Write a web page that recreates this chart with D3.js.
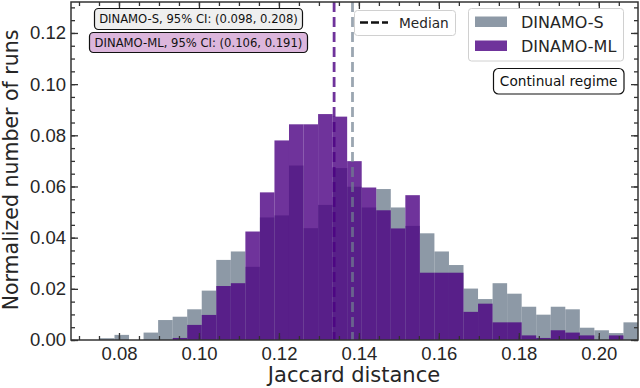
<!DOCTYPE html>
<html>
<head>
<meta charset="utf-8">
<script src="https://cdn.jsdelivr.net/npm/d3@7"></script>
<style>
  body { margin: 0; background: #fff; }
  svg { display: block; font-family: "DejaVu Sans", sans-serif; }
</style>
</head>
<body>
<svg id="chart" width="640" height="388"></svg>
<script>
// histogram bins (same edges for both runs)
const binLo = 0.07524, binHi = 0.2098, binCount = 37;
const seriesNames = ['DINAMO-S', 'DINAMO-ML'];
const dinamoS = [0.0007, 0.0020, 0, 0.0029, 0.0078, 0.0091, 0.0120, 0.0193, 0.0313, 0.0346,
  0.0286, 0.0479, 0.0487, 0.0682, 0.0437, 0.0528, 0.0672, 0.0599, 0.0518, 0.0590,
  0.0518, 0.0446, 0.0417, 0.0346, 0.0293, 0.0201, 0.0160, 0.0222, 0.0181, 0.0130,
  0.0099, 0.0130, 0.0120, 0.0048, 0.0038, 0.0027, 0.0069];
const dinamoML = [0, 0, 0, 0, 0, 0.0008, 0.0059, 0.0098, 0.0211, 0.0222,
  0.0424, 0.0577, 0.0780, 0.0843, 0.0843, 0.0883, 0.0873, 0.0699, 0.0596, 0.0507,
  0.0436, 0.0566, 0.0263, 0.0263, 0.0263, 0.0110, 0.0142, 0.0069, 0.0069, 0.0018,
  0.0008, 0.0038, 0.0029, 0.0018, 0, 0.0018, 0];
const medians = [0.1384, 0.1338];
const ciLabels = ['DINAMO-S, 95% CI: (0.098, 0.208)', 'DINAMO-ML, 95% CI: (0.106, 0.191)'];
const xTicks = [0.08, 0.10, 0.12, 0.14, 0.16, 0.18, 0.20];
const yTicks = [0.00, 0.02, 0.04, 0.06, 0.08, 0.10, 0.12];

const colors = {
   s: 'slategray',
   ml: 'indigo',
   text: '#262626',
   spine: '#333'
};

const svg = d3.select('#chart');
const plot = {left: 71, right: 638, top: 2, bottom: 340};

const x = d3.scaleLinear().domain([0.068, 0.2098]).range([plot.left, plot.right]);
const y = d3.scaleLinear().domain([0, 0.1321]).range([plot.bottom, plot.top]);

const step = (binHi - binLo) / binCount;
const edges = d3.range(binCount + 1).map(i => binLo + i * step);

function drawHist(values, color) {
   svg.append('g')
      .selectAll('rect')
      .data(values)
      .join('rect')
      .attr('x', (d, i) => x(edges[i]))
      .attr('width', (d, i) => x(edges[i + 1]) - x(edges[i]))
      .attr('y', d => y(d))
      .attr('height', d => y(0) - y(d))
      .attr('fill', color)
      .attr('fill-opacity', 0.8);
}
drawHist(dinamoS, colors.s);
drawHist(dinamoML, colors.ml);

// median lines
const medianColors = [colors.s, colors.ml];
medians.forEach((m, i) => {
   svg.append('line')
      .attr('x1', x(m)).attr('x2', x(m))
      .attr('y1', plot.top).attr('y2', plot.bottom)
      .attr('stroke', medianColors[i])
      .attr('stroke-opacity', i == 0 ? 0.7 : 0.8)
      .attr('stroke-width', 2.8)
      .attr('stroke-dasharray', '10,5');
});

// axes, ticks inward on all sides
const xMinor = d3.range(0.07, 0.2098, 0.005);
const yMinor = d3.range(0, 0.1321, 0.005);
function tickAxis(axisFn, scale, ticks, size, transform, labels) {
   const g = svg.append('g')
      .attr('transform', transform)
      .call(axisFn(scale).tickValues(ticks).tickSize(size).tickSizeOuter(0)
         .tickFormat(labels ? d3.format('.2f') : ''));
   g.select('.domain').remove();
   g.selectAll('.tick line').attr('stroke', colors.spine).attr('stroke-width', 1.3);
   return g;
}
const xb = tickAxis(d3.axisTop, x, xTicks, 7, `translate(0,${plot.bottom})`, true);
xb.selectAll('text').attr('y', 19.5).attr('dy', null)
   .attr('font-size', 18.5).attr('fill', colors.text);
tickAxis(d3.axisTop, x, xMinor, 4, `translate(0,${plot.bottom})`, false);
tickAxis(d3.axisBottom, x, xTicks, 7, `translate(0,${plot.top})`, false);
tickAxis(d3.axisBottom, x, xMinor, 4, `translate(0,${plot.top})`, false);

const yl = tickAxis(d3.axisRight, y, yTicks, 7, `translate(${plot.left},0)`, true);
yl.selectAll('text').attr('x', -5).attr('text-anchor', 'end')
   .attr('font-size', 18.5).attr('fill', colors.text);
tickAxis(d3.axisRight, y, yMinor, 4, `translate(${plot.left},0)`, false);
tickAxis(d3.axisLeft, y, yTicks, 7, `translate(${plot.right},0)`, false);
tickAxis(d3.axisLeft, y, yMinor, 4, `translate(${plot.right},0)`, false);

svg.append('rect')
   .attr('x', plot.left).attr('y', plot.top)
   .attr('width', plot.right - plot.left).attr('height', plot.bottom - plot.top)
   .attr('fill', 'none').attr('stroke', colors.spine).attr('stroke-width', 1.5);

// axis labels
svg.append('text')
   .attr('x', 354).attr('y', 382)
   .attr('text-anchor', 'middle').attr('font-size', 21).attr('fill', colors.text)
   .text('Jaccard distance');
svg.append('text')
   .attr('transform', 'translate(18,170) rotate(-90)')
   .attr('text-anchor', 'middle').attr('font-size', 20.5).attr('fill', colors.text)
   .text('Normalized number of runs');

// CI annotations
const ciFills = ['#efefef', '#dcb6dc'];
const ciBoxes = [{x: 94.5, y: 8.5, w: 208, h: 21}, {x: 89.5, y: 32.5, w: 218, h: 20}];
ciLabels.forEach((label, i) => {
   const b = ciBoxes[i];
   svg.append('rect')
      .attr('x', b.x).attr('y', b.y).attr('width', b.w).attr('height', b.h)
      .attr('rx', 4).attr('fill', ciFills[i]).attr('stroke', '#111').attr('stroke-width', 1.2);
   svg.append('text')
      .attr('x', b.x + b.w / 2).attr('y', b.y + b.h / 2 + 4.2)
      .attr('text-anchor', 'middle').attr('font-size', 11.6).attr('fill', '#111')
      .text(label);
});

// median legend
svg.append('rect')
   .attr('x', 354.5).attr('y', 10.5).attr('width', 101).attr('height', 25)
   .attr('rx', 3).attr('fill', 'white').attr('fill-opacity', 0.8)
   .attr('stroke', '#d0d0d0');
svg.append('line')
   .attr('x1', 360).attr('x2', 388).attr('y1', 22.5).attr('y2', 22.5)
   .attr('stroke', '#111').attr('stroke-width', 2.6).attr('stroke-dasharray', '8,3');
svg.append('text')
   .attr('x', 399).attr('y', 27.5).attr('font-size', 13.7).attr('fill', colors.text)
   .text('Median');

// series legend
svg.append('rect')
   .attr('x', 468.5).attr('y', 8.5).attr('width', 155).attr('height', 52.5)
   .attr('rx', 3).attr('fill', 'white').attr('fill-opacity', 0.8)
   .attr('stroke', '#d0d0d0');
[colors.s, colors.ml].forEach((c, i) => {
   svg.append('rect')
      .attr('x', 475).attr('y', 16.5 + i * 24).attr('width', 32).attr('height', 10.5)
      .attr('fill', c).attr('fill-opacity', 0.8);
   svg.append('text')
      .attr('x', 521).attr('y', 27.5 + i * 24).attr('font-size', 16).attr('fill', colors.text)
      .text(seriesNames[i]);
});

// regime label
svg.append('rect')
   .attr('x', 493.5).attr('y', 68.5).attr('width', 130.5).attr('height', 25.5)
   .attr('rx', 5).attr('fill', 'white').attr('stroke', '#111').attr('stroke-width', 1.2);
svg.append('text')
   .attr('x', 558.7).attr('y', 86).attr('text-anchor', 'middle')
   .attr('font-size', 13.7).attr('fill', '#111')
   .text('Continual regime');
</script>
</body>
</html>
